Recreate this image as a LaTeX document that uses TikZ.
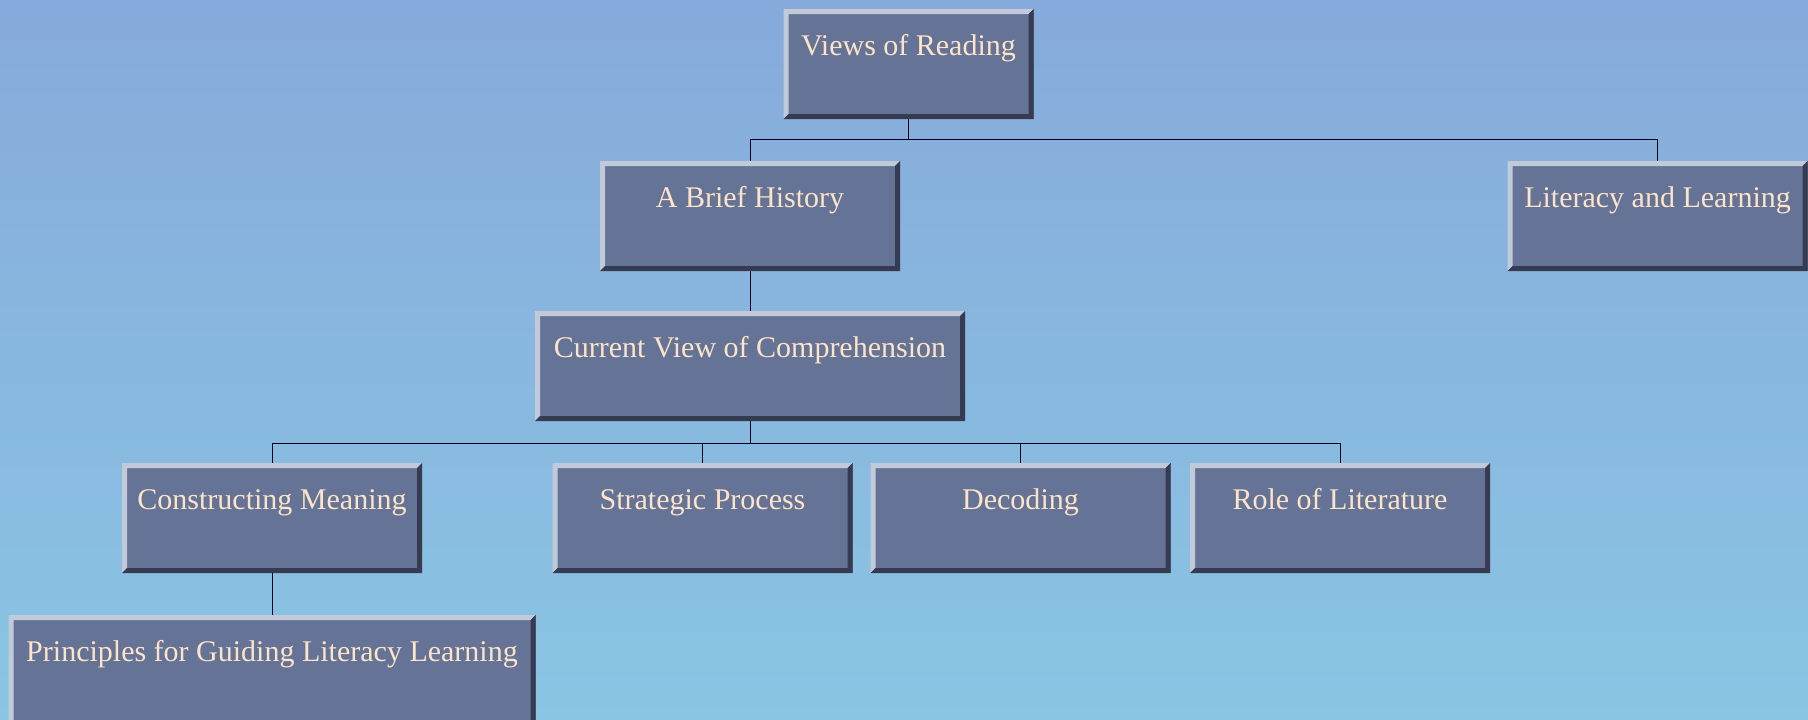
\documentclass[tikz,border=0pt]{standalone}
\usepackage{fontspec}
\setmainfont{Liberation Serif}
\definecolor{bgtop}{HTML}{86AADB}
\definecolor{bgbot}{HTML}{8AC5E3}
\definecolor{boxfill}{HTML}{647396}
\definecolor{bevellight}{HTML}{C2CAD9}
\definecolor{beveldark}{HTML}{363B52}
\definecolor{boxtext}{HTML}{FDE4C8}
\tikzset{
    bevelbox/.style={fill=boxfill, inner sep=0pt, text=boxtext,
        font=\fontsize{15}{18}\selectfont,
        minimum width=150pt, text height=23.2pt, text depth=31.8pt,
        path picture={
            \fill[bevellight] (path picture bounding box.north west) -- (path picture bounding box.north east)
                -- ([xshift=-2.5pt,yshift=-2.5pt]path picture bounding box.north east)
                -- ([xshift=2.5pt,yshift=-2.5pt]path picture bounding box.north west)
                -- ([xshift=2.5pt,yshift=2.5pt]path picture bounding box.south west)
                -- (path picture bounding box.south west) -- cycle;
            \fill[beveldark] (path picture bounding box.south east) -- (path picture bounding box.north east)
                -- ([xshift=-2.5pt,yshift=-2.5pt]path picture bounding box.north east)
                -- ([xshift=-2.5pt,yshift=2.5pt]path picture bounding box.south east)
                -- ([xshift=2.5pt,yshift=2.5pt]path picture bounding box.south west)
                -- (path picture bounding box.south west) -- cycle;
        }},
    conn/.style={draw=black!90!blue, line width=0.5pt}
}
\begin{document}
\begin{tikzpicture}[x=0.5pt,y=-0.5pt]
        \useasboundingbox (0,0) rectangle (1808,719);
        \clip (0,0) rectangle (1808,719);
        \shade[top color=bgtop, bottom color=bgbot] (0,0) rectangle (1808,719);

        \node[bevelbox, minimum width=125pt] (views) at (908.5,64) {Views of Reading};
        \node[bevelbox] (brief) at (750,216) {A Brief History};
        \node[bevelbox] (literacy) at (1657.5,216) {Literacy and Learning};
        \node[bevelbox, minimum width=215pt] (current) at (750,366) {Current View of Comprehension};
        \foreach \name/\x/\txt in {construct/272/Constructing Meaning, strategic/702.5/Strategic Process, decoding/1020.5/Decoding, role/1340/Role of Literature}
        {
            \node[bevelbox] (\name) at (\x,518) {\txt};
        }
        \node[bevelbox, minimum width=263.5pt] (principles) at (272,670) {Principles for Guiding Literacy Learning};

        \coordinate (topbus) at (0,139.5);
        \coordinate (lowbus) at (0,443);
        \draw[conn] (views.south) -- (views.south |- topbus);
        \draw[conn] (brief.north) |- (literacy.north |- topbus) -- (literacy.north);
        \draw[conn] (brief.south) -- (current.north);
        \draw[conn] (current.south) -- (current.south |- lowbus);
        \draw[conn] (construct.north) |- (role.north |- lowbus) -- (role.north);
        \foreach \name in {strategic,decoding}
        {
            \draw[conn] (\name.north) -- (\name.north |- lowbus);
        }
        \draw[conn] (construct.south) -- (principles.north);
    \end{tikzpicture}
\end{document}
